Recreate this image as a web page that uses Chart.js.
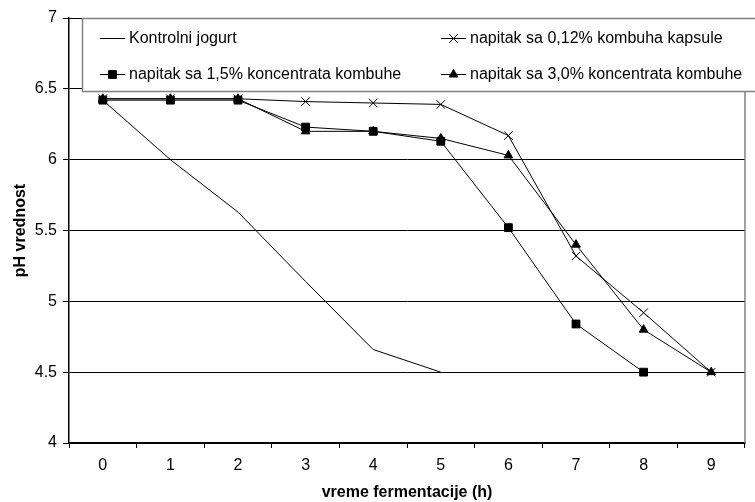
<!DOCTYPE html>
<html>
<head>
<meta charset="utf-8">
<script src="https://cdn.jsdelivr.net/npm/chart.js"></script>
<style>
  body { margin: 0; background: #fff; }
  #wrap { width: 755px; height: 502px; }
</style>
</head>
<body>
<div id="wrap"><canvas id="grafik" width="755" height="502"></canvas></div>
<script>
// vreme fermentacije (h)
const vreme = ["0", "1", "2", "3", "4", "5", "6", "7", "8", "9"];

// pH vrednosti
const kontrolni = [6.42, 6.0, 5.63, 5.14, 4.66, 4.5, null, null, null, null];
const kapsule   = [6.43, 6.43, 6.43, 6.41, 6.40, 6.39, 6.17, 5.32, 4.92, 4.5];
const konc15    = [6.42, 6.42, 6.42, 6.23, 6.20, 6.13, 5.52, 4.84, 4.5, null];
const konc30    = [6.43, 6.43, 6.43, 6.20, 6.20, 6.15, 6.03, 5.40, 4.80, 4.5];

const nazivi = [
  "Kontrolni jogurt",
  "napitak sa 0,12% kombuha kapsule",
  "napitak sa 1,5% koncentrata kombuhe",
  "napitak sa 3,0% koncentrata kombuhe"
];

const FONT = "'Liberation Sans', Arial, sans-serif";

// legenda u okviru preko grafika, dve kolone
const legendaPlugin = {
  id: "legendaOkvir",
  afterDatasetsDraw(chart) {
    const ctx = chart.ctx;
    const area = chart.chartArea;
    const x0 = 82, y0 = area.top, w = 700, h = 73;
    ctx.save();
    ctx.fillStyle = "#fff";
    ctx.fillRect(x0, y0, w, h);
    ctx.strokeStyle = "#808080";
    ctx.lineWidth = 1.5;
    ctx.strokeRect(x0 + 0.5, y0 + 0.5, w, h);

    const mesta = [[100, 38], [441, 38], [100, 74], [441, 74]];
    chart.data.datasets.forEach((ds, i) => {
      const [lx, ly] = mesta[i];
      ctx.strokeStyle = "#000";
      ctx.lineWidth = 1;
      ctx.beginPath();
      ctx.moveTo(lx, ly + 0.5);
      ctx.lineTo(lx + 25, ly + 0.5);
      ctx.stroke();
      if (ds.pointRadius > 0 && Chart.helpers && Chart.helpers.drawPoint) {
        ctx.fillStyle = "#000";
        Chart.helpers.drawPoint(ctx, {
          pointStyle: ds.pointStyle,
          radius: ds.pointRadius,
          borderWidth: 1,
          rotation: 0
        }, lx + 12.5, ly + 0.5);
      }
      ctx.fillStyle = "#000";
      ctx.font = "16px " + FONT;
      ctx.textBaseline = "middle";
      ctx.textAlign = "left";
      ctx.fillText(ds.label, lx + 29, ly + 1);
    });

    // desna ivica oblasti grafika
    ctx.strokeStyle = "#808080";
    ctx.lineWidth = 1.5;
    ctx.beginPath();
    ctx.moveTo(area.right, y0 + h);
    ctx.lineTo(area.right, area.bottom);
    ctx.stroke();
    ctx.restore();
  }
};

const osnova = {
  borderColor: "#000",
  backgroundColor: "#000",
  borderWidth: 1,
  pointBorderColor: "#000",
  pointBackgroundColor: "#000",
  pointBorderWidth: 1,
  tension: 0,
  fill: false
};

new Chart(document.getElementById("grafik"), {
  type: "line",
  data: {
    labels: vreme,
    datasets: [
      { ...osnova, label: nazivi[0], data: kontrolni, pointRadius: 0, pointStyle: "circle" },
      { ...osnova, label: nazivi[1], data: kapsule, pointRadius: 6, pointStyle: "crossRot" },
      { ...osnova, label: nazivi[2], data: konc15, pointRadius: 5.5, pointStyle: "rect" },
      { ...osnova, label: nazivi[3], data: konc30, pointRadius: 5, pointStyle: "triangle" }
    ]
  },
  options: {
    responsive: false,
    animation: false,
    layout: { padding: { top: 18, right: 10, left: 0, bottom: 0 } },
    plugins: {
      legend: { display: false },
      tooltip: { enabled: false }
    },
    scales: {
      x: {
        offset: true,
        grid: {
          offset: true,
          drawOnChartArea: false,
          color: "#000",
          tickLength: 5
        },
        border: { color: "#000", width: 1.5 },
        ticks: {
          color: "#000",
          font: { family: FONT, size: 16 },
          padding: 8,
          maxRotation: 0
        },
        title: {
          display: true,
          text: "vreme fermentacije (h)",
          color: "#000",
          font: { family: FONT, size: 16, weight: "bold" },
          padding: { top: 0, bottom: 0 }
        },
        afterFit(scale) { scale.height = 59; }
      },
      y: {
        min: 4,
        max: 7,
        ticks: {
          stepSize: 0.5,
          color: "#000",
          font: { family: FONT, size: 16 },
          padding: 6,
          callback: v => String(v)
        },
        grid: {
          color: "#000",
          lineWidth: 1,
          tickLength: 6
        },
        border: { color: "#000", width: 1.5 },
        title: {
          display: true,
          text: "pH vrednost",
          color: "#000",
          font: { family: FONT, size: 16, weight: "bold" },
          padding: { top: 11, bottom: 0 }
        },
        afterFit(scale) { scale.width = 69; }
      }
    }
  },
  plugins: [legendaPlugin]
});
</script>
</body>
</html>
